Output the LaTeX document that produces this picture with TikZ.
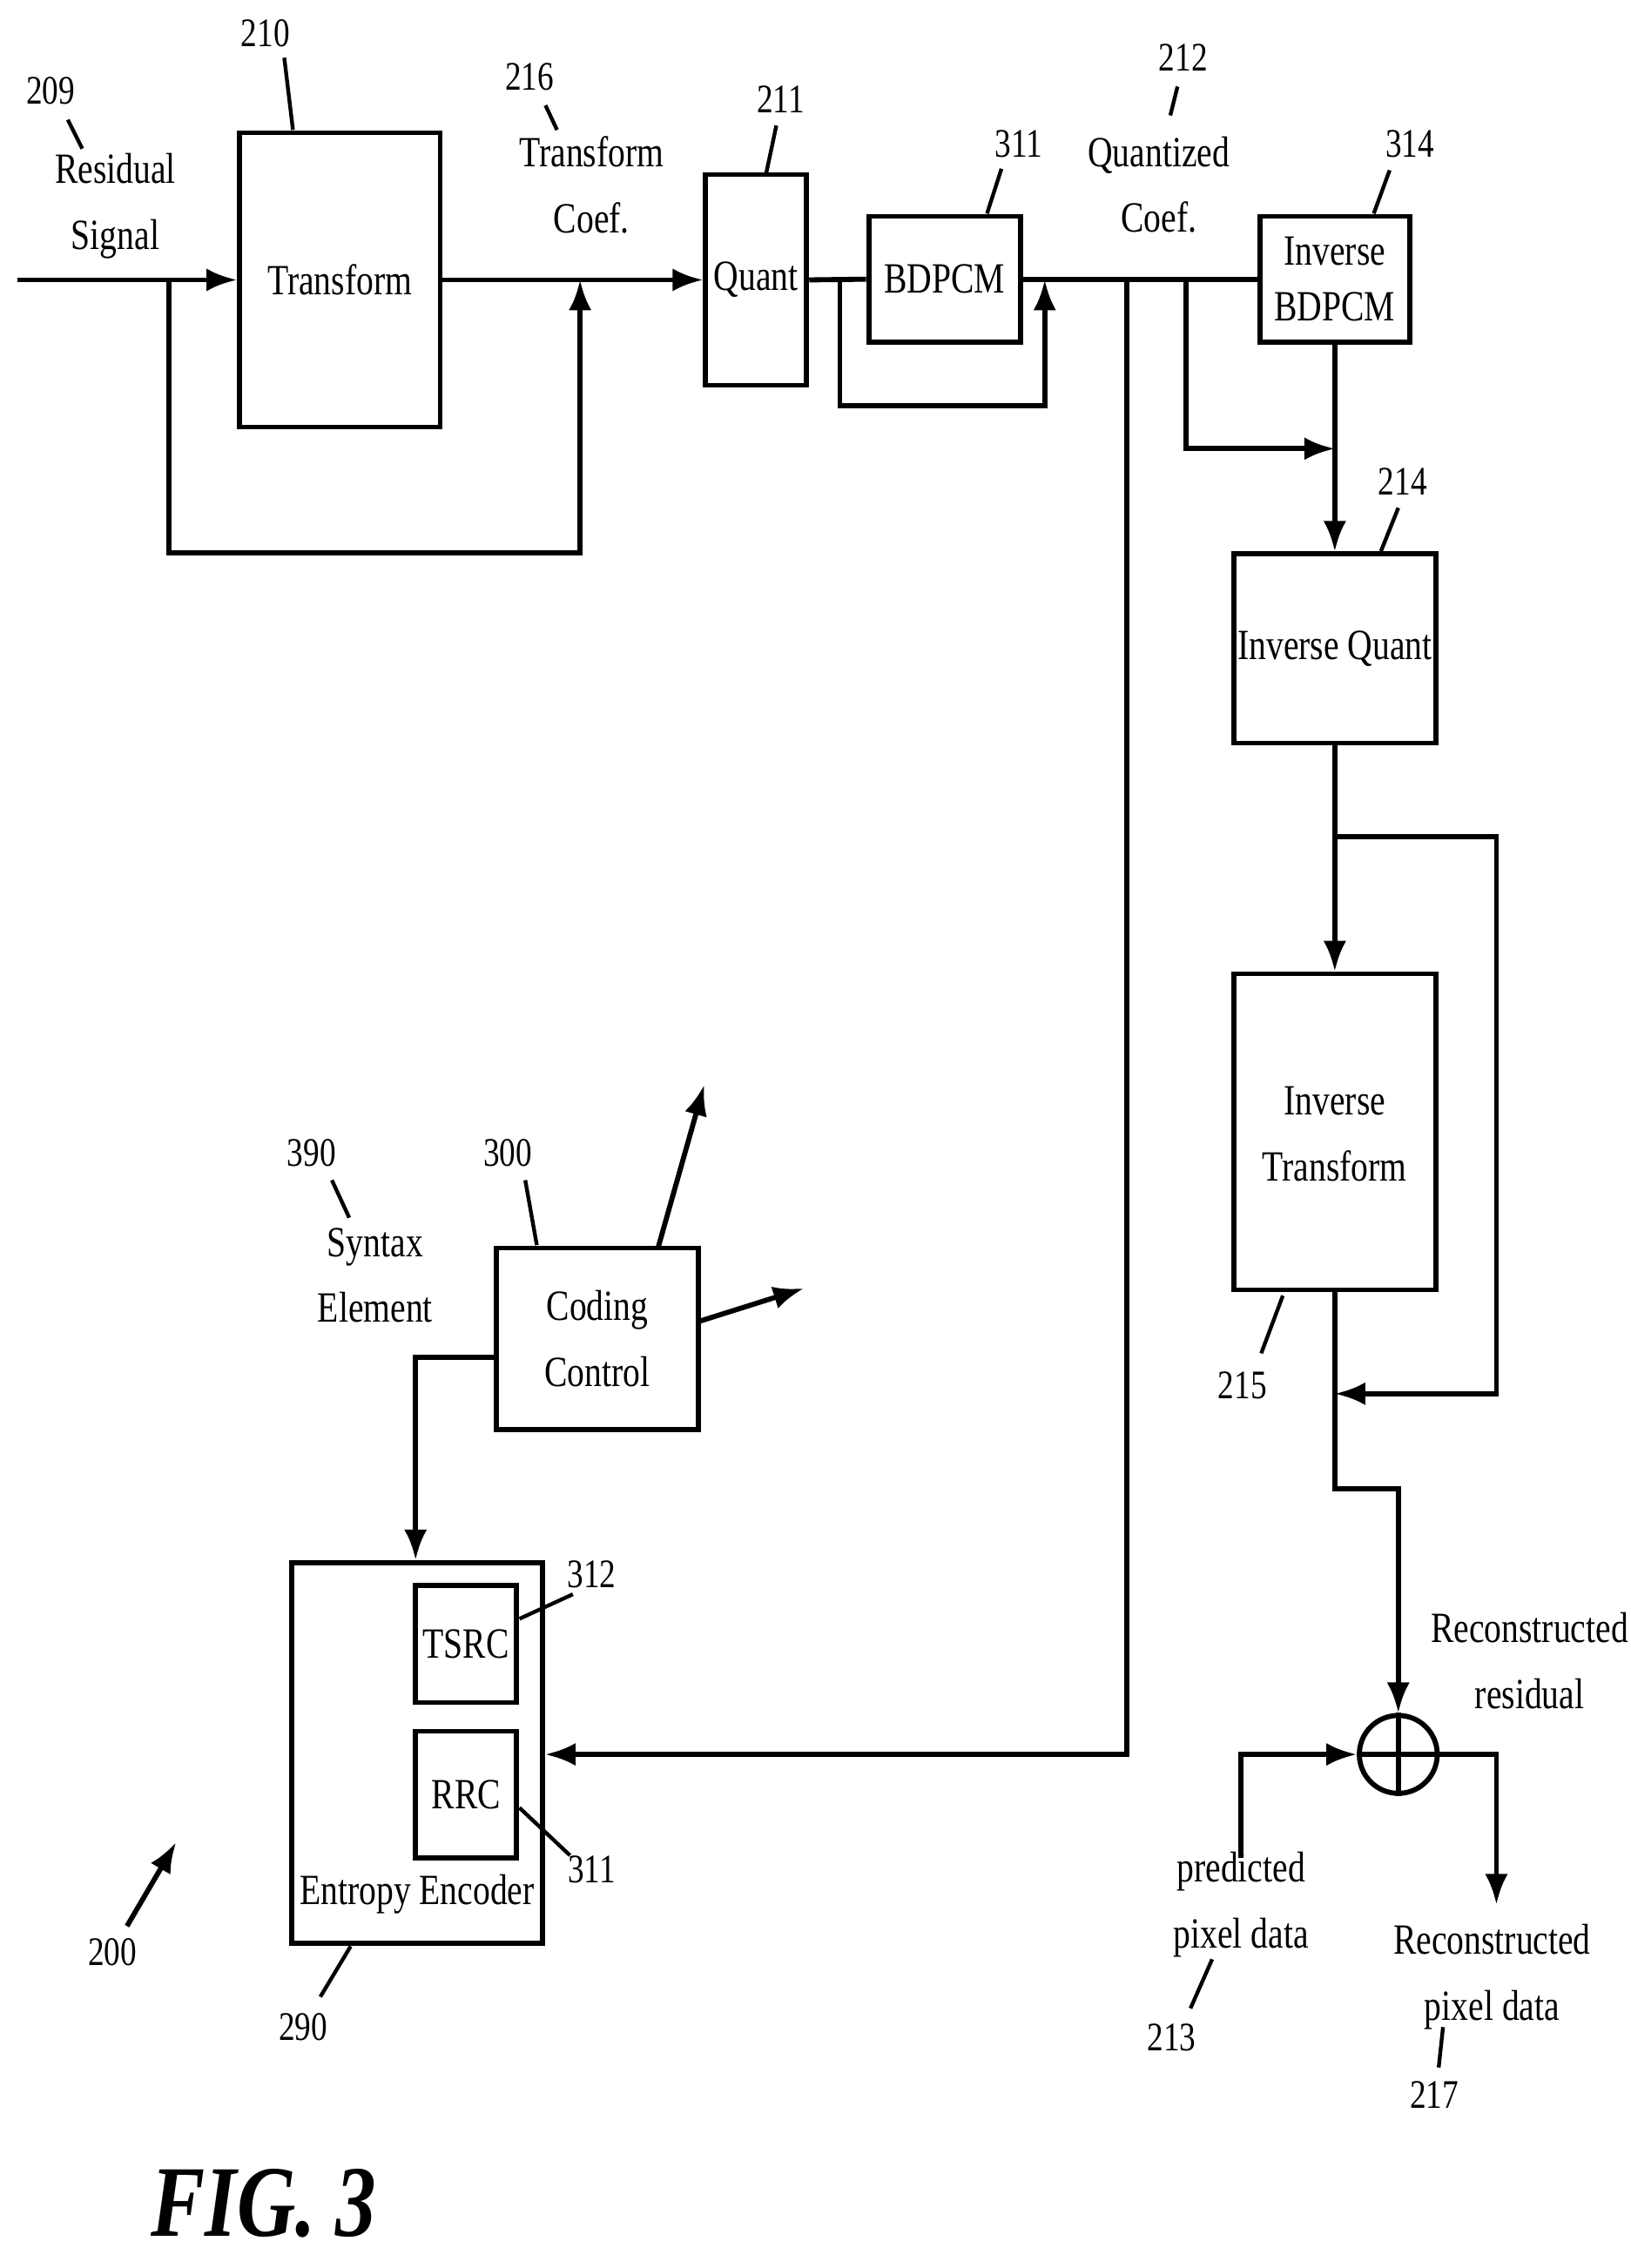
\documentclass[tikz,border=0pt]{standalone}
\usepackage{fontspec}
\setmainfont{Liberation Serif}[FakeStretch=0.8]
\usetikzlibrary{positioning,arrows.meta}
\tikzset{
  blk/.style={draw, line width=2pt, inner sep=0pt},
  wire/.style={line width=2pt},
  flow/.style={line width=2pt, -{Latex[length=12pt,width=9pt]}},
  lead/.style={line width=1.5pt},
  txt/.style={font=\fontsize{17}{20}\selectfont, align=center, inner sep=0pt},
  num/.style={font=\fontsize{16}{19}\selectfont, inner sep=0pt}
}
\begin{document}
\begin{tikzpicture}[x=0.02cm, y=-0.02cm]
\useasboundingbox (0,0) rectangle (1130,1572);
% blocks
\node[blk, minimum width=139*0.02cm, minimum height=204*0.02cm] (tr) at (235.5,194) {};
\node[txt] at (tr) {Transform};
\node[blk, minimum width=70*0.02cm, minimum height=146*0.02cm] (qu) at (524,194) {};
\node[txt] at (qu) {Quant};
\node[blk, minimum width=105*0.02cm, minimum height=87*0.02cm] (bd) at (654.5,193.5) {};
\node[txt] at (bd) {BDPCM};
\node[blk, minimum width=104*0.02cm, minimum height=87*0.02cm] (ibd) at (925,193.5) {};
\node[txt] at (ibd) {Inverse\\[2pt]BDPCM};
\node[blk, minimum width=140*0.02cm, minimum height=131*0.02cm] (iq) at (925,449.5) {};
\node[txt] at (iq) {Inverse Quant};
\node[blk, minimum width=140*0.02cm, minimum height=219*0.02cm] (it) at (925,784.5) {};
\node[txt] at (925,786) {Inverse\\[6pt]Transform};
\node[blk, minimum width=140*0.02cm, minimum height=126*0.02cm] (cc) at (414,928) {};
\node[txt] at (cc) {Coding\\[6pt]Control};
\node[blk, minimum width=174*0.02cm, minimum height=264*0.02cm] (ee) at (289,1215) {};
\node[txt] at (289,1313) {Entropy Encoder};
\node[blk, minimum width=70*0.02cm, minimum height=81*0.02cm] (ts) at (323,1139.5) {};
\node[txt] at (ts) {TSRC};
\node[blk, minimum width=70*0.02cm, minimum height=88*0.02cm] (rr) at (323,1244) {};
\node[txt] at (rr) {RRC};
\node[draw, circle, line width=2pt, minimum size=54*0.02cm, inner sep=0pt] (add) at (969,1216) {};
\draw[wire] (add.west) -- (add.east) (add.north) -- (add.south);
% coordinates
\coordinate (in) at (12,194);
\coordinate (pin) at (860,1288);
\coordinate (rout) at (1037,1320);
% connectors
\draw[flow] (in) -- (tr.west);
\draw[flow] (117,194) -- (117,383) -- (402,383) -- (402,194);
\draw[flow] (tr.east) -- (qu.west);
\draw[wire] (qu.east) -- (bd.west);
\draw[flow] (582,194) -- (582,281) -- (724,281) -- (724,194);
\draw[wire] (bd.east) -- (ibd.west);
\draw[flow] (781,194) -- (781,1216) -- (ee.east |- 0,1216);
\draw[flow] (822,194) -- (822,311) -- (925,311);
\draw[flow] (ibd.south) -- (iq.north);
\draw[flow] (iq.south) -- (it.north);
\draw[flow] (925,580) -- (1037,580) -- (1037,966) -- (925,966);
\draw[flow] (it.south) -- (925,1032) -- (969,1032) -- (add.north);
\draw[flow] (pin) -- (860,1216) -- (add.west);
\draw[flow] (add.east) -- (1037,1216) -- (rout);
\draw[flow] (cc.west |- 0,941) -- (288,941) -- (ee.north -| 288,0);
\draw[flow] (456,865) -- (488,752);
\draw[flow] (484,916) -- (557,893);
% labels
\node[num] at (35,63) {209};
\draw[lead] (47,83) -- (57,103);
\node[txt] at (80,143) {Residual\\[6pt]Signal};
\node[num] at (184,23) {210};
\draw[lead] (197,40) -- (203,90);
\node[num] at (367,53) {216};
\draw[lead] (378,73) -- (386,90);
\node[txt] at (410,128) {Transform\\[6pt]Coef.};
\node[num] at (541,69) {211};
\draw[lead] (538,87) -- (531,120);
\node[num] at (706,100) {311};
\draw[lead] (694,117) -- (684,148);
\node[num] at (820,40) {212};
\draw[lead] (816,60) -- (811,80);
\node[txt] at (803,128) {Quantized\\[6pt]Coef.};
\node[num] at (977,100) {314};
\draw[lead] (963,118) -- (952,148);
\node[num] at (972,334) {214};
\draw[lead] (969,352) -- (957,382);
\node[num] at (861,960) {215};
\draw[lead] (874,938) -- (889,898);
\node[num] at (216,799) {390};
\draw[lead] (230,818) -- (242,844);
\node[txt] at (260,884) {Syntax\\[6pt]Element};
\node[num] at (352,799) {300};
\draw[lead] (364,818) -- (372,863);
\node[num] at (410,1091) {312};
\draw[lead] (397,1105) -- (360,1122);
\node[num] at (410,1296) {311};
\draw[lead] (395,1286) -- (360,1253);
\node[num] at (210,1405) {290};
\draw[lead] (222,1384) -- (243,1349);
\node[num] at (78,1353) {200};
\draw[flow] (88,1335) -- (122,1277);
\node[txt] at (1060,1151) {Reconstructed\\[6pt]residual};
\node[txt] at (860,1320) {predicted\\[6pt]pixel data};
\node[num] at (812,1412) {213};
\draw[lead] (825,1392) -- (840,1358);
\node[txt] at (1034,1370) {Reconstructed\\[6pt]pixel data};
\node[num] at (994,1452) {217};
\draw[lead] (997,1433) -- (1000,1405);
\node[font=\bfseries\itshape\fontsize{40}{44}\selectfont] at (183,1527) {FIG. 3};
\end{tikzpicture}
\end{document}
